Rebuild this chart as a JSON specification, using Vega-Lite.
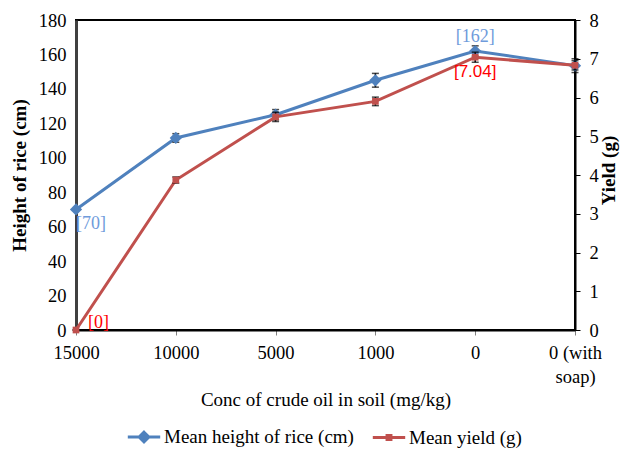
{
  "$schema": "https://vega.github.io/schema/vega-lite/v6.json",
  "width": 499,
  "height": 310,
  "autosize": "none",
  "padding": {"left": 76, "top": 20, "right": 50, "bottom": 121},
  "config": {
    "font": "Liberation Serif",
    "view": {"stroke": "black", "strokeWidth": 2},
    "axis": {"labelFont": "Liberation Serif", "labelFontSize": 18.5, "labelColor": "black", "titleFont": "Liberation Serif", "titleColor": "black", "grid": false}
  },
  "data": {
    "values": [
      {"conc": "15000", "height": 70, "height_err": 0, "yield": 0, "yield_err": 0, "hlab_below": "[70]", "ylab_right": "[0]"},
      {"conc": "10000", "height": 111.5, "height_err": 2.5, "yield": 3.87, "yield_err": 0.08},
      {"conc": "5000", "height": 125, "height_err": 3, "yield": 5.5, "yield_err": 0.12},
      {"conc": "1000", "height": 145, "height_err": 4, "yield": 5.9, "yield_err": 0.11},
      {"conc": "0", "height": 162, "height_err": 3, "yield": 7.04, "yield_err": 0.13, "hlab_above": "[162]", "ylab_below": "[7.04]"},
      {"conc": "0 (with soap)", "height": 153.5, "height_err": 4, "yield": 6.83, "yield_err": 0.12}
    ]
  },
  "encoding": {
    "x": {
      "field": "conc", "type": "ordinal",
      "scale": {"type": "point", "padding": 0, "domain": ["15000", "10000", "5000", "1000", "0", "0 (with soap)"]},
      "axis": {
        "title": "Conc of crude oil in soil (mg/kg)", "titleFontSize": 19, "titleFontWeight": "normal", "titlePadding": 5,
        "labelAngle": 0, "labelPadding": 8, "tickSize": 5, "tickColor": "#808080", "domainColor": "black", "domainWidth": 2,
        "labelLineHeight": 24,
        "labelExpr": "datum.value == '0 (with soap)' ? ['0 (with', 'soap)'] : datum.value"
      }
    }
  },
  "layer": [
    {
      "encoding": {
        "y": {"field": "height", "type": "quantitative", "scale": {"domain": [0, 180], "nice": false},
          "axis": {"title": "Height of rice (cm)", "titleFontSize": 19, "titleFontWeight": "bold", "titlePadding": 9, "orient": "left", "values": [0, 20, 40, 60, 80, 100, 120, 140, 160, 180], "ticks": false, "labelFont": "Liberation Serif", "labelFontSize": 18.5, "labelPadding": 10, "domainColor": "#404040", "domainWidth": 3}}
      },
      "layer": [
        {
          "mark": {"type": "line", "strokeWidth": 3},
          "encoding": {
            "color": {"datum": "Mean height of rice (cm)", "scale": {"domain": ["Mean height of rice (cm)", "Mean yield (g)"], "range": ["#4F81BD", "#C0504D"]},
              "legend": {
                "title": null, "orient": "none", "legendX": 50, "legendY": 399, "direction": "horizontal",
                "labelFont": "Liberation Serif", "labelFontSize": 19, "labelColor": "black", "labelOffset": 2, "labelLimit": 0, "columnPadding": 12,
                "symbolSize": 1050, "symbolStrokeWidth": 3,
                "encode": {"symbols": {"update": {
                  "shape": {"signal": "datum.value == 'Mean yield (g)' ? 'M-1,0H1M-0.12,-0.12H0.12V0.12H-0.12Z' : 'M-1,0H1M0,-0.3L0.3,0L0,0.3L-0.3,0Z'"},
                  "fill": {"scale": "color", "field": "value"},
                  "stroke": {"scale": "color", "field": "value"},
                  "strokeWidth": {"value": 3}
                }}}
              }}
          }
        },
        {
          "mark": {"type": "errorbar", "ticks": true, "size": 7, "thickness": 1.5, "color": "black"},
          "encoding": {"yError": {"field": "height_err"}}
        },
        {
          "mark": {"type": "point", "shape": "diamond", "filled": true, "size": 150, "color": "#4F81BD", "opacity": 1}
        },
        {
          "transform": [{"filter": "isValid(datum.hlab_below)"}],
          "mark": {"type": "text", "font": "Liberation Serif", "fontSize": 18, "fill": "#6F9BDB", "align": "left", "dx": 0, "dy": 15},
          "encoding": {"text": {"field": "hlab_below", "type": "nominal"}}
        },
        {
          "transform": [{"filter": "isValid(datum.hlab_above)"}],
          "mark": {"type": "text", "font": "Liberation Serif", "fontSize": 18, "fill": "#6F9BDB", "align": "center", "dy": -14},
          "encoding": {"text": {"field": "hlab_above", "type": "nominal"}}
        }
      ]
    },
    {
      "encoding": {
        "y": {"field": "yield", "type": "quantitative", "scale": {"domain": [0, 8], "nice": false},
          "axis": {"title": "Yield (g)", "titleFontSize": 19, "titleFontWeight": "bold", "titleAngle": 270, "titleX": 33, "titleY": 150, "titleBaseline": "middle", "orient": "right", "values": [0, 1, 2, 3, 4, 5, 6, 7, 8], "tickSize": 5, "tickColor": "black", "labelFont": "Liberation Serif", "labelFontSize": 18.5, "labelPadding": 9, "domainColor": "black", "domainWidth": 2}}
      },
      "layer": [
        {
          "mark": {"type": "line", "strokeWidth": 3},
          "encoding": {
            "color": {"datum": "Mean yield (g)", "scale": {"domain": ["Mean height of rice (cm)", "Mean yield (g)"], "range": ["#4F81BD", "#C0504D"]}}
          }
        },
        {
          "mark": {"type": "errorbar", "ticks": true, "size": 7, "thickness": 1.5, "color": "black"},
          "encoding": {"yError": {"field": "yield_err"}}
        },
        {
          "mark": {"type": "point", "shape": "square", "filled": true, "size": 45, "color": "#C0504D", "opacity": 1}
        },
        {
          "transform": [{"filter": "isValid(datum.ylab_right)"}],
          "mark": {"type": "text", "font": "Liberation Serif", "fontSize": 18, "fill": "#FF0000", "align": "left", "dx": 12, "dy": -7},
          "encoding": {"text": {"field": "ylab_right", "type": "nominal"}}
        },
        {
          "transform": [{"filter": "isValid(datum.ylab_below)"}],
          "mark": {"type": "text", "font": "Liberation Sans", "fontSize": 17, "fill": "#FF0000", "align": "center", "dy": 15},
          "encoding": {"text": {"field": "ylab_below", "type": "nominal"}}
        }
      ]
    }
  ],
  "resolve": {"scale": {"y": "independent"}}
}
